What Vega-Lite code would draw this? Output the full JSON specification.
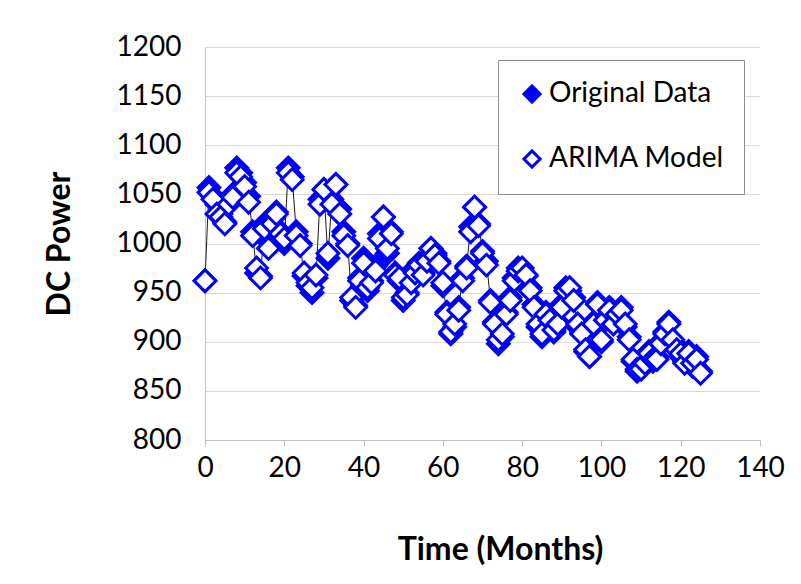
{
  "$schema": "https://vega.github.io/schema/vega-lite/v6.json",
  "width": 555,
  "height": 393,
  "autosize": "none",
  "padding": {"left": 205, "top": 47, "right": 41, "bottom": 144},
  "background": "white",
  "data": {
    "values": [
      {"month":0,"Original Data":962,"ARIMA Model":962},
      {"month":1,"Original Data":1057,"ARIMA Model":1052},
      {"month":2,"Original Data":1048,"ARIMA Model":1045},
      {"month":3,"Original Data":1040,"ARIMA Model":1030},
      {"month":4,"Original Data":1030,"ARIMA Model":1027},
      {"month":5,"Original Data":1022,"ARIMA Model":1020},
      {"month":6,"Original Data":1045,"ARIMA Model":1040},
      {"month":7,"Original Data":1050,"ARIMA Model":1047},
      {"month":8,"Original Data":1077,"ARIMA Model":1072},
      {"month":9,"Original Data":1072,"ARIMA Model":1068},
      {"month":10,"Original Data":1062,"ARIMA Model":1058},
      {"month":11,"Original Data":1048,"ARIMA Model":1042},
      {"month":12,"Original Data":1012,"ARIMA Model":1008},
      {"month":13,"Original Data":970,"ARIMA Model":975},
      {"month":14,"Original Data":967,"ARIMA Model":965},
      {"month":15,"Original Data":1020,"ARIMA Model":1015},
      {"month":16,"Original Data":1002,"ARIMA Model":995},
      {"month":17,"Original Data":1025,"ARIMA Model":1020},
      {"month":18,"Original Data":1032,"ARIMA Model":1030},
      {"month":19,"Original Data":1012,"ARIMA Model":1010},
      {"month":20,"Original Data":1000,"ARIMA Model":1005},
      {"month":21,"Original Data":1077,"ARIMA Model":1072},
      {"month":22,"Original Data":1068,"ARIMA Model":1065},
      {"month":23,"Original Data":1012,"ARIMA Model":1008},
      {"month":24,"Original Data":1000,"ARIMA Model":998},
      {"month":25,"Original Data":967,"ARIMA Model":970},
      {"month":26,"Original Data":957,"ARIMA Model":960},
      {"month":27,"Original Data":950,"ARIMA Model":955},
      {"month":28,"Original Data":965,"ARIMA Model":968},
      {"month":29,"Original Data":1045,"ARIMA Model":1040},
      {"month":30,"Original Data":1055,"ARIMA Model":1055},
      {"month":31,"Original Data":985,"ARIMA Model":990},
      {"month":32,"Original Data":1045,"ARIMA Model":1040},
      {"month":33,"Original Data":1060,"ARIMA Model":1060},
      {"month":34,"Original Data":1035,"ARIMA Model":1030},
      {"month":35,"Original Data":1012,"ARIMA Model":1008},
      {"month":36,"Original Data":1000,"ARIMA Model":998},
      {"month":37,"Original Data":942,"ARIMA Model":945},
      {"month":38,"Original Data":937,"ARIMA Model":935},
      {"month":39,"Original Data":965,"ARIMA Model":962},
      {"month":40,"Original Data":985,"ARIMA Model":980},
      {"month":41,"Original Data":952,"ARIMA Model":955},
      {"month":42,"Original Data":962,"ARIMA Model":960},
      {"month":43,"Original Data":977,"ARIMA Model":972},
      {"month":44,"Original Data":1010,"ARIMA Model":1005},
      {"month":45,"Original Data":1027,"ARIMA Model":1027},
      {"month":46,"Original Data":990,"ARIMA Model":995},
      {"month":47,"Original Data":1012,"ARIMA Model":1010},
      {"month":48,"Original Data":970,"ARIMA Model":968},
      {"month":49,"Original Data":962,"ARIMA Model":965},
      {"month":50,"Original Data":942,"ARIMA Model":945},
      {"month":51,"Original Data":950,"ARIMA Model":948},
      {"month":52,"Original Data":962,"ARIMA Model":960},
      {"month":53,"Original Data":975,"ARIMA Model":970},
      {"month":54,"Original Data":980,"ARIMA Model":978},
      {"month":55,"Original Data":970,"ARIMA Model":968},
      {"month":56,"Original Data":985,"ARIMA Model":982},
      {"month":57,"Original Data":995,"ARIMA Model":995},
      {"month":58,"Original Data":990,"ARIMA Model":988},
      {"month":59,"Original Data":982,"ARIMA Model":980},
      {"month":60,"Original Data":957,"ARIMA Model":960},
      {"month":61,"Original Data":930,"ARIMA Model":928},
      {"month":62,"Original Data":908,"ARIMA Model":910},
      {"month":63,"Original Data":915,"ARIMA Model":918},
      {"month":64,"Original Data":935,"ARIMA Model":932},
      {"month":65,"Original Data":965,"ARIMA Model":962},
      {"month":66,"Original Data":977,"ARIMA Model":975},
      {"month":67,"Original Data":1017,"ARIMA Model":1012},
      {"month":68,"Original Data":1037,"ARIMA Model":1037},
      {"month":69,"Original Data":1020,"ARIMA Model":1018},
      {"month":70,"Original Data":992,"ARIMA Model":990},
      {"month":71,"Original Data":982,"ARIMA Model":978},
      {"month":72,"Original Data":942,"ARIMA Model":940},
      {"month":73,"Original Data":920,"ARIMA Model":918},
      {"month":74,"Original Data":898,"ARIMA Model":902},
      {"month":75,"Original Data":905,"ARIMA Model":908},
      {"month":76,"Original Data":930,"ARIMA Model":928},
      {"month":77,"Original Data":945,"ARIMA Model":942},
      {"month":78,"Original Data":965,"ARIMA Model":962},
      {"month":79,"Original Data":975,"ARIMA Model":972},
      {"month":80,"Original Data":972,"ARIMA Model":975},
      {"month":81,"Original Data":967,"ARIMA Model":968},
      {"month":82,"Original Data":955,"ARIMA Model":952},
      {"month":83,"Original Data":938,"ARIMA Model":935},
      {"month":84,"Original Data":915,"ARIMA Model":918},
      {"month":85,"Original Data":905,"ARIMA Model":908},
      {"month":86,"Original Data":930,"ARIMA Model":928},
      {"month":87,"Original Data":925,"ARIMA Model":922},
      {"month":88,"Original Data":910,"ARIMA Model":912},
      {"month":89,"Original Data":920,"ARIMA Model":918},
      {"month":90,"Original Data":938,"ARIMA Model":935},
      {"month":91,"Original Data":955,"ARIMA Model":952},
      {"month":92,"Original Data":952,"ARIMA Model":955},
      {"month":93,"Original Data":945,"ARIMA Model":942},
      {"month":94,"Original Data":915,"ARIMA Model":918},
      {"month":95,"Original Data":910,"ARIMA Model":908},
      {"month":96,"Original Data":890,"ARIMA Model":892},
      {"month":97,"Original Data":885,"ARIMA Model":885},
      {"month":98,"Original Data":920,"ARIMA Model":918},
      {"month":99,"Original Data":940,"ARIMA Model":938},
      {"month":100,"Original Data":900,"ARIMA Model":902},
      {"month":101,"Original Data":925,"ARIMA Model":922},
      {"month":102,"Original Data":935,"ARIMA Model":932},
      {"month":103,"Original Data":920,"ARIMA Model":918},
      {"month":104,"Original Data":930,"ARIMA Model":928},
      {"month":105,"Original Data":935,"ARIMA Model":932},
      {"month":106,"Original Data":915,"ARIMA Model":918},
      {"month":107,"Original Data":905,"ARIMA Model":902},
      {"month":108,"Original Data":880,"ARIMA Model":882},
      {"month":109,"Original Data":870,"ARIMA Model":872},
      {"month":110,"Original Data":875,"ARIMA Model":872},
      {"month":111,"Original Data":880,"ARIMA Model":878},
      {"month":112,"Original Data":890,"ARIMA Model":888},
      {"month":113,"Original Data":880,"ARIMA Model":882},
      {"month":114,"Original Data":885,"ARIMA Model":882},
      {"month":115,"Original Data":900,"ARIMA Model":898},
      {"month":116,"Original Data":910,"ARIMA Model":908},
      {"month":117,"Original Data":920,"ARIMA Model":918},
      {"month":118,"Original Data":900,"ARIMA Model":902},
      {"month":119,"Original Data":895,"ARIMA Model":892},
      {"month":120,"Original Data":885,"ARIMA Model":888},
      {"month":121,"Original Data":880,"ARIMA Model":878},
      {"month":122,"Original Data":890,"ARIMA Model":888},
      {"month":123,"Original Data":875,"ARIMA Model":878},
      {"month":124,"Original Data":885,"ARIMA Model":882},
      {"month":125,"Original Data":870,"ARIMA Model":868}
    ]
  },
  "transform": [
    {"fold": ["Original Data", "ARIMA Model"], "as": ["series", "power"]}
  ],
  "encoding": {
    "x": {
      "field": "month", "type": "quantitative",
      "scale": {"domain": [0, 140], "nice": false},
      "axis": {
        "values": [0, 20, 40, 60, 80, 100, 120, 140],
        "grid": false, "labelFlush": false, "labelOverlap": false,
        "title": "Time (Months)",
        "titleFontSize": 32, "titleFontWeight": "bold",
        "titlePadding": 52, "titleX": 295,
        "labelFontSize": 28, "labelPadding": 8,
        "domainColor": "#bfbfbf", "tickColor": "#bfbfbf", "tickSize": 6
      }
    },
    "y": {
      "field": "power", "type": "quantitative",
      "scale": {"domain": [800, 1200], "nice": false, "zero": false},
      "axis": {
        "values": [800, 850, 900, 950, 1000, 1050, 1100, 1150, 1200],
        "format": "d", "labelFlush": false, "labelOverlap": false,
        "grid": true, "gridColor": "#d9d9d9",
        "title": "DC Power",
        "titleFontSize": 32, "titleFontWeight": "bold",
        "titlePadding": 40,
        "labelFontSize": 28, "labelPadding": 24,
        "domainColor": "#bfbfbf", "ticks": false
      }
    }
  },
  "layer": [
    {
      "transform": [{"filter": "datum.series === 'Original Data'"}],
      "mark": {"type": "line", "color": "#1a1a1a", "strokeWidth": 1},
      "encoding": {}
    },
    {
      "transform": [{"filter": "datum.series === 'Original Data'"}],
      "mark": {"type": "point", "shape": "diamond", "size": 470, "strokeWidth": 3, "opacity": 1, "filled": false},
      "encoding": {
        "fill": {"field": "series", "type": "nominal", "scale": {"domain": ["Original Data", "ARIMA Model"], "range": ["#0000ff", "#ffffff"]}}
      }
    },
    {
      "transform": [{"filter": "datum.series === 'ARIMA Model'"}],
      "mark": {"type": "point", "shape": "diamond", "size": 470, "strokeWidth": 3, "opacity": 1, "filled": false},
      "encoding": {
        "fill": {"field": "series", "type": "nominal", "scale": {"domain": ["Original Data", "ARIMA Model"], "range": ["#0000ff", "#ffffff"]}}
      }
    }
  ],
  "resolve": {"scale": {"fill": "shared"}, "legend": {"fill": "shared"}},
  "config": {
    "view": {"stroke": null},
    "font": "Lato",
    "axis": {"labelFont": "Lato", "titleFont": "Lato", "labelColor": "#000000", "titleColor": "#000000"},
    "point": {"stroke": "#0000ff"},
    "legend": {
      "title": null, "orient": "none", "legendX": 293, "legendY": 13,
      "symbolType": "diamond", "symbolSize": 260, "symbolStrokeWidth": 3, "symbolStrokeColor": "#0000ff",
      "labelFont": "Lato", "labelFontSize": 28, "labelColor": "#000000", "labelOffset": 3, "labelLimit": 300,
      "rowPadding": 35, "padding": 20, "strokeColor": "#8c8c8c", "fillColor": "#ffffff", "cornerRadius": 0
    }
  }
}
